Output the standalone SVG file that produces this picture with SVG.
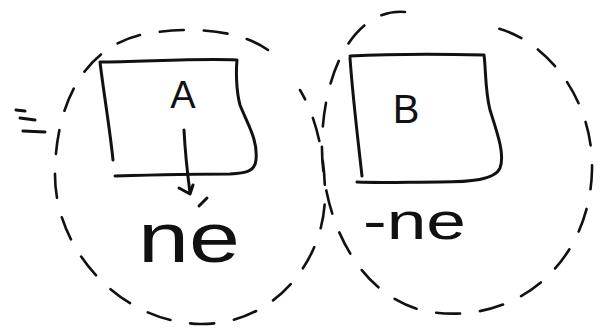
<svg xmlns="http://www.w3.org/2000/svg" width="602" height="329" viewBox="0 0 602 329">
<style>
.ink{fill:none;stroke:#111;stroke-width:3;stroke-linecap:round;stroke-linejoin:round}
.dash{fill:none;stroke:#111;stroke-width:2.6;stroke-linecap:round;stroke-dasharray:24 20}
.lbl{font-family:"Liberation Sans",Arial,sans-serif;fill:#111}
</style>
<rect width="602" height="329" fill="#fff"/>
<g id="circleA">
<path class="dash" d="M268,50 C240,30 190,25 140,35 C80,50 55,110 55,175 C55,250 120,322 200,324 C275,325 325,260 325,195 C325,160 318,120 300,90"/>
</g>
<g id="circleB">
<path class="dash" d="M405,12 C360,8 325,60 322,140 C320,220 360,300 430,312 C520,325 590,260 592,170 C594,95 540,30 480,25"/>
</g>
<g id="nodeA">
<path class="ink" d="M100,62 C140,62 200,58 237,60 C236,70 236,90 240,105 C248,125 258,140 256,160 C255,172 245,173 230,174 C190,174 150,175 115,176 M100,62 C104,95 110,130 113,160"/>
<text class="lbl" x="183" y="108" font-size="38" text-anchor="middle">A</text>
</g>
<g id="nodeB">
<path class="ink" d="M350,56 C390,54 440,54 484,55 C486,70 485,90 490,110 C498,135 505,155 500,168 C495,180 470,182 440,182 C410,182 380,183 357,182 M350,58 C353,100 358,140 362,176"/>
<text class="lbl" x="406" y="123" font-size="40" text-anchor="middle">B</text>
</g>
<g id="labelA">
<text class="lbl" x="138" y="262" font-size="70" textLength="102" lengthAdjust="spacingAndGlyphs">ne</text>
</g>
<g id="labelB">
<text class="lbl" x="363" y="239" font-size="52" textLength="103" lengthAdjust="spacingAndGlyphs">-ne</text>
</g>
<g id="marks">
<path class="ink" d="M16,110 L25,111 M20,118 L35,120 M23,131 L45,132"/>
</g>
<g id="connectors">
<path class="ink" d="M184,130 C185,150 187,170 190,193 M179,188 L190,194 L193,185"/>
<path class="ink" d="M199,206 L207,198"/>
</g>
</svg>
